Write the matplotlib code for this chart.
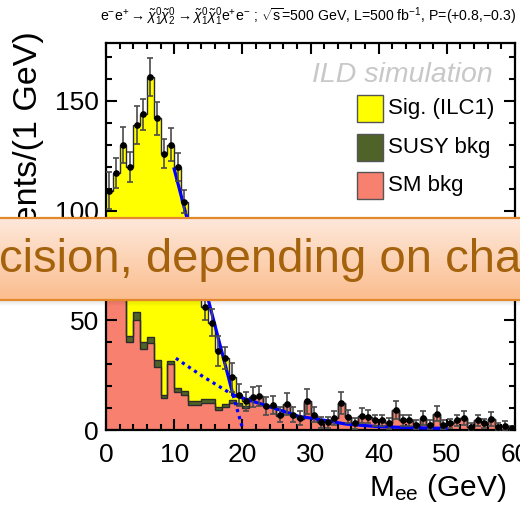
import numpy as np
import matplotlib
matplotlib.use("Agg")
import matplotlib.pyplot as plt
from matplotlib.patches import Rectangle, FancyBboxPatch

plt.rcParams['font.family'] = ['Liberation Sans', 'DejaVu Sans']
plt.rcParams['mathtext.fontset'] = 'custom'
plt.rcParams['mathtext.rm'] = 'Liberation Sans'
plt.rcParams['mathtext.it'] = 'Liberation Sans:italic'
plt.rcParams['mathtext.bf'] = 'Liberation Sans:bold'

# ============================================================
# data: M_ee, 1 GeV bins from 0 to 60
# ============================================================
edges = np.arange(0, 61)

data = np.array([109, 117, 130, 120, 139, 144, 161, 142, 126, 130,
                 120, 104, 90, 75, 56, 49, 36, 33, 24, 16,
                 13, 15, 15.5, 11, 11.5, 7, 12, 7, 5.5, 13,
                 7, 3.5, 3.5, 5.5, 12.5, 6, 3, 6.5, 6, 4.5,
                 4.5, 3, 9, 4.5, 4.5, 2.5, 5.5, 2.5, 7.5, 2.5,
                 3, 4.5, 5.5, 1.5, 4.5, 3, 5, 1.5, 2, 1])

err = np.array([8.4, 6.8, 8.2, 6.8, 8.6, 7.1, 8.7, 7.4, 6.5, 7.6,
                6.3, 5.2, 6, 6, 6, 6, 6.7, 5, 6.5, 5,
                4.5, 4.5, 4.5, 4, 4, 3.5, 5, 3.5, 3, 5.5,
                3.5, 2.5, 2.5, 3, 5, 3, 2.5, 3.5, 3, 2.5,
                2.5, 2.5, 4, 2.5, 2.5, 2, 3, 2, 3.5, 2,
                2, 2.5, 3, 1.5, 2.5, 2, 3, 1.5, 2, 1])

susy_bkg = np.array([4, 4, 4, 3, 4, 3, 3, 3.5, 1.5, 1.5,
                     1.5, 2, 1.5, 1.5, 1.5, 1.5, 1.5, 1.5, 1, 1,
                     1, 0.5, 0.5, 0.5, 0.5, 0.5, 0.5, 0.5, 0.5, 0.5,
                     0, 0, 0, 0, 0, 0, 0, 0, 0, 0,
                     0, 0, 0, 0, 0, 0, 0, 0, 0, 0,
                     0, 0, 0, 0, 0, 0, 0, 0, 0, 0])

sm_bkg = np.array([72, 66, 61, 40, 50, 37, 39.5, 28.5, 14.5, 30,
                   17.5, 16, 11.5, 11.5, 12.5, 12.5, 9, 10.5, 12.5, 11.5,
                   10, 14.5, 15, 10.5, 11, 6.5, 11.5, 6.5, 5, 12.5,
                   7, 3.5, 3.5, 5.5, 12.5, 6, 3, 6.5, 6, 4.5,
                   4.5, 3, 9, 4.5, 4.5, 2.5, 5.5, 2.5, 7.5, 2.5,
                   3, 4.5, 5.5, 1.5, 4.5, 3, 5, 1.5, 2, 1])

# edge fit
sigfit_x = [10.0, 18.64]
sigfit_y = [119.0, 16.0]
sigtail_x = [18.64, 20.1]
sigtail_y = [16.0, 0.0]
bkgfit_x = [10.25, 14.25, 18.64, 25.5, 28.4, 30.4, 35.2, 40.1, 45.0, 49.9]
bkgfit_y = [32.7, 24.3, 16.0, 9.1, 6.1, 5.3, 2.7, 1.5, 1.05, 0.75]

labels = ['Sig. (ILC1)', 'SUSY bkg', 'SM bkg']
colors = ['#ffff00', '#4f6228', '#f8806f']

# ============================================================
# figure, pixel helpers (origin top-left)
# ============================================================
W, H = 520, 505
def fx(x):
    return x / W
def fy(y):
    return 1 - y / H

fig = plt.figure(figsize=(W / 100, H / 100), dpi=100)
ax = fig.add_axes([fx(106), fy(430), (515 - 106) / W, (430 - 43) / H])

lvl1 = sm_bkg
lvl2 = sm_bkg + susy_bkg
sig = np.clip(data - lvl2, 0, None)
lvl3 = lvl2 + sig

ax.stairs(lvl3, edges, baseline=lvl2, fill=True, color=colors[0], lw=0)
ax.stairs(lvl2, edges, baseline=lvl1, fill=True, color=colors[1], lw=0)
ax.stairs(lvl1, edges, baseline=0, fill=True, color=colors[2], lw=0)
for lv in (lvl1, lvl2, lvl3):
    ax.stairs(lv, edges, baseline=None, color='#2b2b2b', lw=1.0)

# fit
ax.plot(sigfit_x, sigfit_y, color='#0000ff', lw=2.3, zorder=5)
ax.plot(sigtail_x, sigtail_y, color='#0000ff', lw=2.3, ls=(0, (1, 1.3)), zorder=5)
n_dot = bkgfit_x.index(18.64) + 1
ax.plot(bkgfit_x[:n_dot], bkgfit_y[:n_dot], color='#0000ff', lw=2.3, ls=(0, (1, 1.3)), zorder=5)
ax.plot(bkgfit_x[n_dot - 1:], bkgfit_y[n_dot - 1:], color='#0000ff', lw=2.3, zorder=5)

# pseudo data
centers = 0.5 * (edges[:-1] + edges[1:])
ax.errorbar(centers, data, yerr=err, fmt='o', color='black', ms=3.8,
            ecolor='#4a4a4a', elinewidth=1.2, capsize=2.2, capthick=1.2, zorder=6)

ax.set_xlim(0, 60)
ax.set_ylim(0, 176.4)
ax.set_xticks(np.arange(0, 61, 10))
ax.set_xticks(np.arange(0, 61, 2), minor=True)
ax.set_yticks([0, 50, 100, 150])
ax.set_yticks(np.arange(0, 176, 10), minor=True)
ax.tick_params(which='both', direction='in', top=True, right=True, width=1.5,
               labelsize=19)
ax.tick_params(which='major', length=8)
ax.tick_params(which='minor', length=4)
ax.tick_params(axis='x', pad=9)
ax.tick_params(axis='y', pad=5)
for s in ax.spines.values():
    s.set_linewidth(1.6)

# texts
fig.text(fx(308), fy(17),
         r'e$^{-}$e$^{+}$$\rightarrow\tilde{\chi}^{0}_{1}\tilde{\chi}^{0}_{2}\rightarrow'
         r'\tilde{\chi}^{0}_{1}\tilde{\chi}^{0}_{1}$e$^{+}$e$^{-}$ ; $\sqrt{\mathrm{s}}$=500 GeV,'
         r' L=500 fb$^{-1}$, P=(+0.8,$-$0.3)',
         ha='center', va='center', fontsize=10.2)
fig.text(fx(29), fy(31), 'Events/(1 GeV)', rotation=90, ha='center', va='top',
         fontsize=24.5)
fig.text(fx(506), fy(496), r'M$_{\mathrm{ee}}$ (GeV)', ha='right', va='baseline',
         fontsize=21.5)
fig.text(fx(493), fy(82), 'ILD simulation', ha='right', va='baseline',
         fontsize=20.5, style='italic', color='#c8c8c8')

# legend
for i, (lab, col) in enumerate(zip(labels, colors)):
    top = 95 + 38.5 * i
    fig.patches.append(Rectangle((fx(357), fy(top + 27)), 26 / W, 27 / H,
                                 transform=fig.transFigure, facecolor=col,
                                 edgecolor='#555555', lw=1.0))
    fig.text(fx(388), fy(top + 13.5), lab, ha='left', va='center', fontsize=16)

# ============================================================
# slide banner on top
# ============================================================
bx = fig.add_axes([0, fy(308), 1, (308 - 214) / H], zorder=10)
bx.set_xlim(0, W)
bx.set_ylim(308, 214)
bx.axis('off')
bx.patch.set_alpha(0)
for k in range(6):
    bx.add_patch(Rectangle((-10, 300 + k), W + 20, 1, facecolor='black',
                           alpha=0.10 * (1 - k / 6), lw=0))
box = FancyBboxPatch((-20, 218), W + 40, 82, boxstyle='round,pad=0,rounding_size=8',
                     facecolor='none', edgecolor='#e3892b', lw=1.6, zorder=3)
c_top = np.array([254, 233, 220]) / 255
c_bot = np.array([251, 189, 142]) / 255
t = np.linspace(0, 1, 100)[:, None]
grad = (c_top[None, :] * (1 - t) + c_bot[None, :] * t)[:, None, :]
im = bx.imshow(grad, extent=(-20, W + 20, 300, 218), aspect='auto', zorder=1)
bx.add_patch(box)
im.set_clip_path(box)
bx.text(-1, 260, 'cision, depending on cha', ha='left', va='center',
        fontsize=34, color='#a4620c', zorder=4)

fig.savefig('out.png', dpi=100)
